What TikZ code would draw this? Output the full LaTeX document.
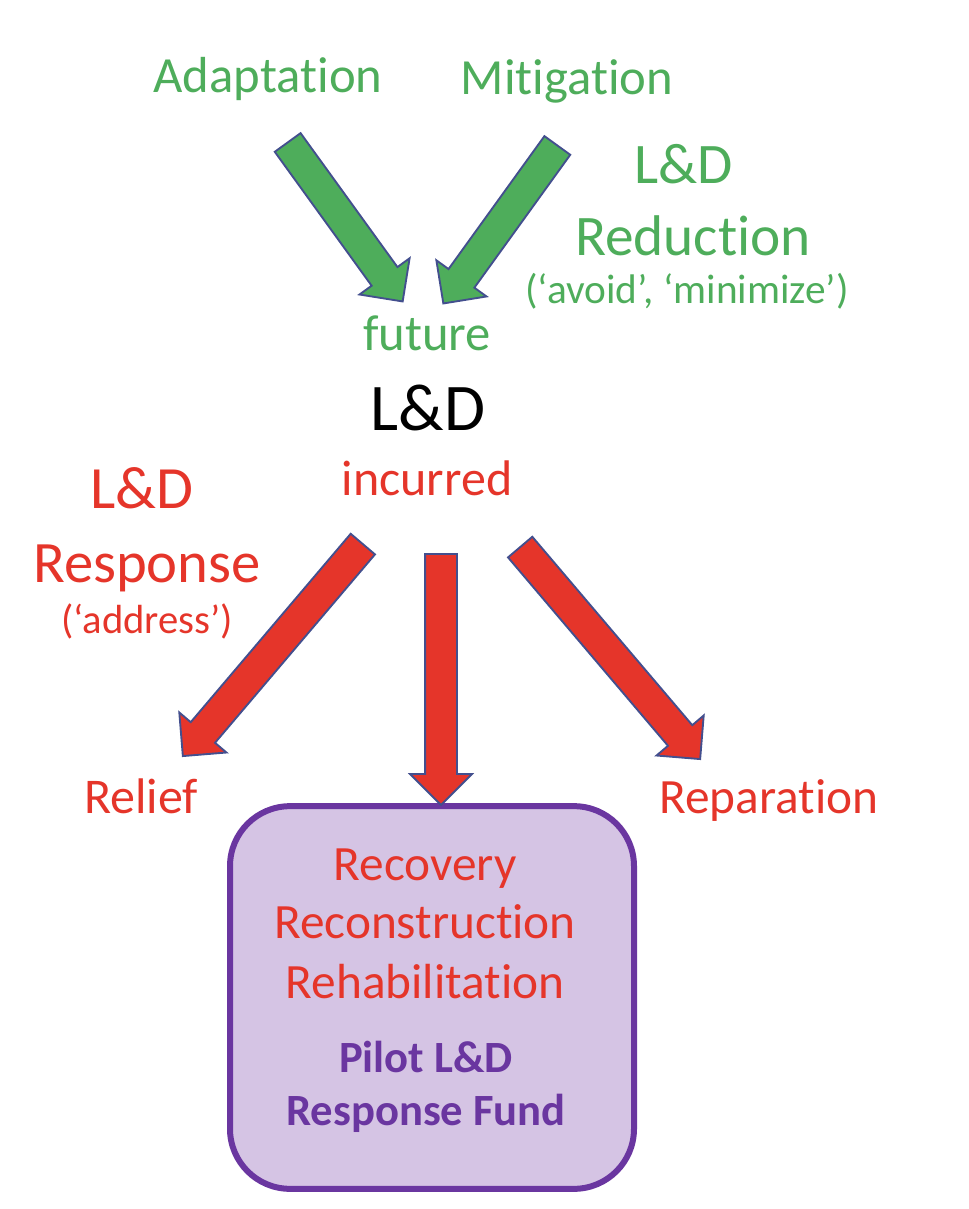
\documentclass[tikz,border=0pt]{standalone}
\usepackage{fontspec}
\setmainfont{Carlito}[Ligatures=NoCommon]
\usetikzlibrary{shapes.arrows,calc}

\definecolor{ldgreen}{HTML}{4EAD5B}
\definecolor{ldred}{HTML}{E5352A}
\definecolor{arrline}{HTML}{434F8E}
\definecolor{ldpurple}{HTML}{6A36A0}
\definecolor{lilac}{HTML}{D5C4E4}

\newcommand\fsz[1]{\fontsize{#1}{#1}\selectfont}
% block arrow from tail coordinate to tip coordinate
\newcommand\bigarrow[3]{%
  \path let \p1=($(#3)-(#2)$), \n1={atan2(\y1,\x1)}, \n2={veclen(\x1,\y1)} in
    node[blockarr,fill=#1,minimum height=\n2,rotate=\n1] at ($(#2)!0.5!(#3)$) {};}

\tikzset{lbl/.style={anchor=base,inner sep=0pt},
    greentxt/.style={lbl,text=ldgreen},
    redtxt/.style={lbl,text=ldred},
    blockarr/.style={single arrow,draw=arrline,line width=1.4pt,
        inner xsep=0pt,inner ysep=11.25pt,outer sep=0pt,
        single arrow head extend=11.25pt,single arrow tip angle=90,
        single arrow head indent=0pt},
    fundbox/.style={draw=ldpurple,fill=lilac,line width=4.5pt,rounded corners=45pt,
        minimum width=303pt,minimum height=287pt,inner sep=0pt},
    }

\begin{document}
\begin{tikzpicture}[x=0.75pt,y=-0.75pt]
\useasboundingbox (0,0) rectangle (968,1209);

% reduction side
\node[greentxt,font=\fsz{38}] (adapt) at (268,93) {Adaptation};
\node[greentxt,font=\fsz{38}] (mitig) at (567,95) {Mitigation};
\node[greentxt,font=\fsz{43}] (redLD) at (684,183) {L\&D};
\node[greentxt,font=\fsz{43}] (reduc) at (693,255) {Reduction};
\node[greentxt,font=\fsz{31}] (avoid) at (687,303) {(‘avoid’, ‘minimize’)};
\node[greentxt,font=\fsz{38}] (future) at (427,350) {future};

\node[lbl,font=\fsz{50}] (LD) at (428,430) {L\&D};
\node[redtxt,font=\fsz{37.5}] (incur) at (427,495) {incurred};

% response side
\node[redtxt,font=\fsz{45}] (respLD) at (142,508) {L\&D};
\node[redtxt,font=\fsz{44}] (resp) at (147,582) {Response};
\node[redtxt,font=\fsz{30.5}] (addr) at (147,633) {(‘address’)};
\node[redtxt,font=\fsz{37.5}] (relief) at (141,813) {Relief};
\node[redtxt,font=\fsz{37}] (repar) at (769,813) {Reparation};

\node[fundbox] (fund) at (432,997.5) {};
\node[redtxt,font=\fsz{37}] (recov) at (425,880) {Recovery};
\node[redtxt,font=\fsz{37}] (recon) at (425,938) {Reconstruction};
\node[redtxt,font=\fsz{37}] (rehab) at (425,998) {Rehabilitation};
\node[lbl,text=ldpurple,font=\fsz{33.5}\bfseries] (pilot) at (426,1072) {Pilot L\&D};
\node[lbl,text=ldpurple,font=\fsz{33.5}\bfseries] (pfund) at (426,1125) {Response Fund};

% arrow ends
\coordinate (gA) at (283,136); \coordinate (gAt) at (398,295);
\coordinate (gM) at (562,139); \coordinate (gMt) at (448,297);
\coordinate (rL) at (368,538); \coordinate (rLt) at (188,750);
\coordinate (rC) at (441,546); \coordinate (rCt) at (441,797);
\coordinate (rR) at (515,541); \coordinate (rRt) at (695,753);

\bigarrow{ldgreen}{gA}{gAt}
\bigarrow{ldgreen}{gM}{gMt}
\bigarrow{ldred}{rL}{rLt}
\bigarrow{ldred}{rC}{rCt}
\bigarrow{ldred}{rR}{rRt}
\end{tikzpicture}
\end{document}
